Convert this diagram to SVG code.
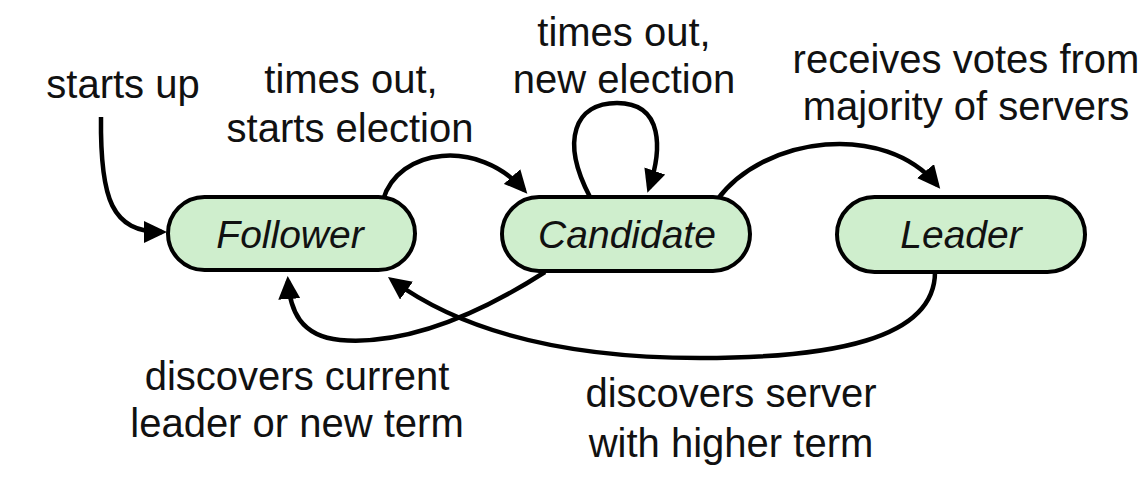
<svg xmlns="http://www.w3.org/2000/svg" width="1144" height="494" viewBox="0 0 1144 494">
<style>
.node rect{fill:#cfeecd;stroke:#000;stroke-width:4}
.node text{font-family:"Liberation Sans",Arial,sans-serif;font-style:italic;font-size:39px;text-anchor:middle;fill:#111}
.lbl{font-family:"Liberation Sans",Arial,sans-serif;font-size:40px;text-anchor:middle;fill:#111}
.edge{fill:none;stroke:#000;stroke-width:4.5}
</style>
<defs>
<marker id="ah" markerUnits="userSpaceOnUse" markerWidth="24" markerHeight="22" refX="18" refY="11" orient="auto">
<path d="M0,0 L23,11 L0,22 z" fill="#000"/>
</marker>
</defs>
<rect width="1144" height="494" fill="#fff"/>
<g id="connectors">
<path class="edge" marker-end="url(#ah)" d="M101,117 C100,200 112,232 162,232"/>
<path class="edge" marker-end="url(#ah)" d="M383,200 C398,148 478,138 524,190"/>
<path class="edge" marker-end="url(#ah)" d="M590,197 C560,140 575,103 617,103 C664,103 662,150 649,188"/>
<path class="edge" marker-end="url(#ah)" d="M717,200 C765,135 885,122 937,185"/>
<path class="edge" marker-end="url(#ah)" d="M545,272 C470,320 400,345 340,340 C300,336 290,310 288,281"/>
<path class="edge" marker-end="url(#ah)" d="M935,272 C935,340 830,358 700,358 C560,358 460,330 392,280"/>
</g>
<g id="follower" class="node">
<rect x="168" y="197" width="247" height="73" rx="36.5"/>
<text x="290" y="248">Follower</text>
</g>
<g id="candidate" class="node">
<rect x="502" y="197" width="248" height="74" rx="37"/>
<text x="627" y="248">Candidate</text>
</g>
<g id="leader" class="node">
<rect x="837" y="197" width="248" height="75" rx="37.5"/>
<text x="961" y="248">Leader</text>
</g>
<g id="labels">
<text class="lbl" x="123" y="98">starts up</text>
<text class="lbl" x="351" y="93">times out,</text>
<text class="lbl" x="350" y="142">starts election</text>
<text class="lbl" x="624" y="46">times out,</text>
<text class="lbl" x="624" y="93">new election</text>
<text class="lbl" x="966" y="73">receives votes from</text>
<text class="lbl" x="966" y="120">majority of servers</text>
<text class="lbl" x="297" y="390">discovers current</text>
<text class="lbl" x="297" y="437">leader or new term</text>
<text class="lbl" x="731" y="407">discovers server</text>
<text class="lbl" x="731" y="457">with higher term</text>
</g>
</svg>
